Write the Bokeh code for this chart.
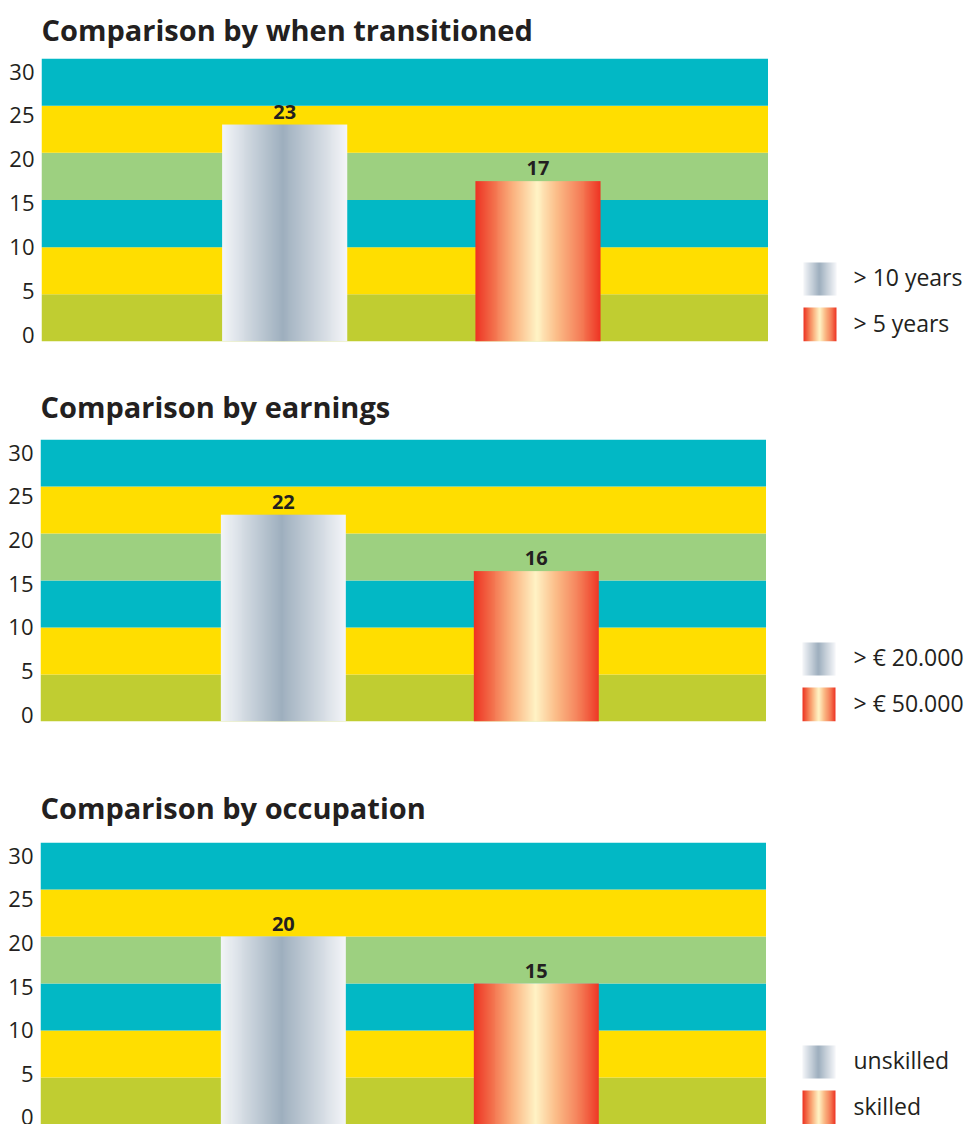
import numpy as np
from bokeh.plotting import figure
from bokeh.layouts import column, row
from bokeh.models import Range1d, LinearAxis, FixedTicker, BoxAnnotation, ColumnDataSource
from bokeh.core.properties import value
from bokeh.embed import file_html
from bokeh.resources import INLINE

# ---- data -------------------------------------------------------------
titles = ["Comparison by when transitioned", "Comparison by earnings", "Comparison by occupation"]
series_a_labels = ["> 10 years", "> € 20.000", "unskilled"]
series_b_labels = ["> 5 years", "> € 50.000", "skilled"]
series_a_values = [23, 22, 20]
series_b_values = [17, 16, 15]
y_ticks = [0, 5, 10, 15, 20, 25, 30]
band_edges = [0, 5, 10, 15, 20, 25, 30]
band_colors = ["#c0cd31", "#ffde00", "#02b8c5", "#9dd080", "#ffde00", "#02b8c5"]

# ---- style ------------------------------------------------------------
FONT = "Open Sans"
INK = "#231f20"
TOTAL_W = 973
X_START, X_END = 0.04, 2.91
BAR_W = 0.494

# (space above frame, frame height, space below frame, frame left, frame right,
#  title vertical alignment, title standoff)
panel_geom = [
    (58, 283, 12, 41, 768, "top", 16),
    (86, 282, 12, 40, 766, "bottom", 28),
    (109, 282, 0, 40, 766, "bottom", 32),
]

silver_stops = [(0.0, "#f3f5f8"), (0.48, "#9eafbe"), (1.0, "#f5f6f9")]
flame_stops = [(0.0, "#ee3524"), (0.13, "#f26b48"), (0.3, "#fbb27f"),
               (0.49, "#fff4c6"), (0.66, "#fbba86"), (0.86, "#f47752"), (1.0, "#ee3524")]


def gradient_rgba(stops, n=128):
    pos = np.array([s[0] for s in stops])
    cols = np.array([[int(c[i:i + 2], 16) for i in (1, 3, 5)] for _, c in stops], float)
    t = np.linspace(0, 1, n)
    img = np.empty((1, n), dtype=np.uint32)
    view = img.view(dtype=np.uint8).reshape((1, n, 4))
    for k in range(3):
        view[0, :, k] = np.interp(t, pos, cols[:, k]).round().astype(np.uint8)
    view[0, :, 3] = 255
    return img


silver = gradient_rgba(silver_stops)
flame = gradient_rgba(flame_stops)


def chart_panel(i):
    top, frame_h, bottom, left, right, t_align, t_standoff = panel_geom[i]
    height = top + frame_h + bottom
    a, b = series_a_values[i], series_b_values[i]

    p = figure(width=right, height=height, output_backend="svg", toolbar_location=None,
               x_range=Range1d(X_START, X_END), y_range=Range1d(band_edges[0], band_edges[-1]),
               x_axis_location=None, y_axis_location=None,
               min_border_left=left, min_border_right=0, min_border_top=top,
               min_border_bottom=bottom, title=titles[i])
    p.outline_line_color = None
    p.grid.visible = False
    p.background_fill_color = "white"
    p.border_fill_color = "white"

    p.title.text_font = FONT
    p.title.text_font_style = "bold"
    p.title.text_font_size = "29px"
    p.title.text_color = INK
    p.title.vertical_align = t_align
    p.title.standoff = t_standoff

    # horizontal colour bands behind the bars
    for lo, hi, col in zip(band_edges[:-1], band_edges[1:], band_colors):
        p.add_layout(BoxAnnotation(bottom=lo, top=hi, fill_color=col, fill_alpha=1.0,
                                   line_color=None, level="underlay"))

    # tick labels sit on an evenly spaced scale slightly inset from the frame
    scale = (frame_h - 20) / 30.0
    p.extra_y_ranges = {"labels": Range1d(-7 / scale, 30 + 13 / scale)}
    ax = LinearAxis(y_range_name="labels", ticker=FixedTicker(ticks=y_ticks))
    ax.axis_line_color = None
    ax.major_tick_line_color = None
    ax.minor_tick_line_color = None
    ax.major_tick_in = 0
    ax.major_tick_out = 0
    ax.major_label_standoff = 7
    ax.major_label_text_font = FONT
    ax.major_label_text_font_size = "22px"
    ax.major_label_text_color = INK
    p.add_layout(ax, "left")

    xs = [1, 2]
    src = ColumnDataSource(dict(image=[silver, flame],
                                x=[x - BAR_W / 2 for x in xs], y=[0, 0],
                                dw=[BAR_W, BAR_W], dh=[a, b]))
    p.image_rgba(image="image", x="x", y="y", dw="dw", dh="dh", source=src)

    p.text(x=xs, y=[a, b], text=[str(a), str(b)], text_align="center",
           text_baseline="bottom", y_offset=-6,
           text_font=value(FONT), text_font_style="bold", text_font_size="20px",
           text_color=INK)

    # legend, on a frame that lines up with the chart frame (units = pixels)
    lw = TOTAL_W - right
    lg = figure(width=lw, height=height, output_backend="svg", toolbar_location=None,
                x_range=Range1d(0, lw), y_range=Range1d(0, frame_h),
                x_axis_location=None, y_axis_location=None,
                min_border_left=0, min_border_right=0, min_border_top=top,
                min_border_bottom=bottom)
    lg.outline_line_color = None
    lg.grid.visible = False
    lg.border_fill_color = "white"
    sw_x = 35 if i == 0 else 36
    tx = 85 if i == 0 else 87
    lsrc = ColumnDataSource(dict(image=[silver, flame], x=[sw_x, sw_x], y=[46, 0],
                                 dw=[33, 33], dh=[33, 34]))
    lg.image_rgba(image="image", x="x", y="y", dw="dw", dh="dh", source=lsrc)
    lg.text(x=[tx, tx], y=[46 + 16.5 + 2, 17 + 2],
            text=[series_a_labels[i], series_b_labels[i]],
            text_align="left", text_baseline="middle",
            text_font=value(FONT), text_font_size="23px", text_color=INK)
    return row(p, lg)


layout = column(*[chart_panel(i) for i in range(3)])

with open("out.html", "w") as f:
    f.write(file_html(layout, INLINE))
